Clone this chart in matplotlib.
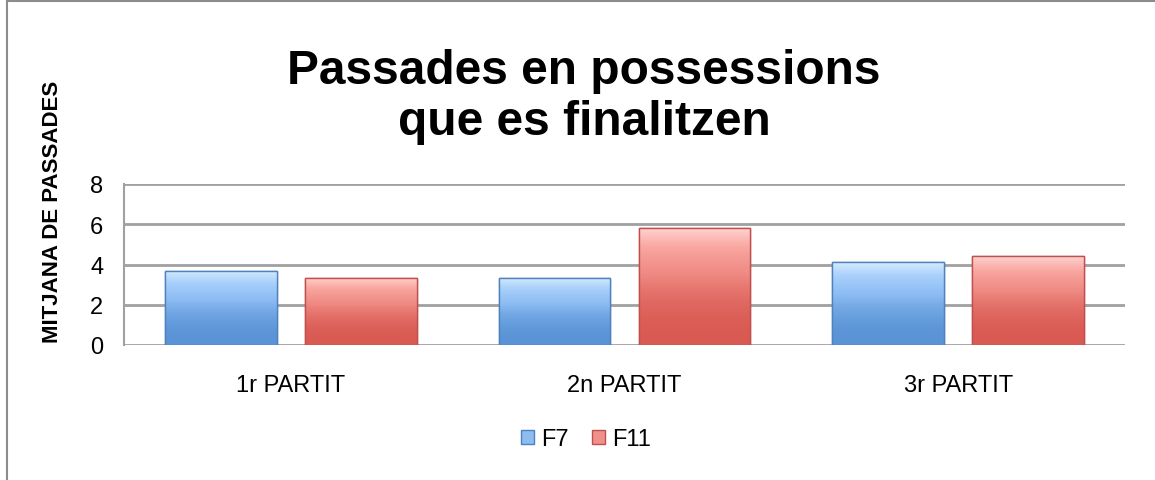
import matplotlib.pyplot as plt
import numpy as np
from matplotlib.colors import LinearSegmentedColormap
from matplotlib.patches import Rectangle

plt.rcParams['font.family'] = ['Liberation Sans', 'DejaVu Sans']

# dades
partits = ['1r PARTIT', '2n PARTIT', '3r PARTIT']
f7 = [3.7, 3.35, 4.1]
f11 = [3.35, 5.8, 4.4]
series = ['F7', 'F11']
yticks = [0, 2, 4, 6, 8]

blau = LinearSegmentedColormap.from_list('blau', ['#5a94d6', '#8dbcf3', '#a9d0fb', '#d6ecff'])
vermell = LinearSegmentedColormap.from_list('verm', ['#d95a52', '#ef8a83', '#f9a6a0', '#ffd2cf'])

fig = plt.figure(figsize=(11.55, 4.81), dpi=100)
ax = fig.add_axes([124/1155, 1-346/481, (1125-124)/1155, (346-185)/481])

x = np.arange(len(partits))
w = 0.335
off = 0.21
b1 = ax.bar(x - off, f7, w, color='#8dbcf3', edgecolor='#4f81bd', linewidth=1, label=series[0], zorder=3)
b2 = ax.bar(x + off, f11, w, color='#f0908a', edgecolor='#c0504d', linewidth=1, label=series[1], zorder=3)

# degradat vertical dins de cada barra
for bars, cmap in [(b1, blau), (b2, vermell)]:
    for p in bars:
        bx, by = p.get_x(), p.get_y()
        bw, bh = p.get_width(), p.get_height()
        g = np.linspace(0, 1, 256) ** 2.2
        im = ax.imshow(g.reshape(-1, 1), cmap=cmap, origin='lower', aspect='auto',
                       extent=[bx, bx + bw, by, by + bh], zorder=3.5)
        im.set_clip_path(p)
        ax.add_patch(Rectangle((bx, by), bw, bh, fill=False, edgecolor=p.get_edgecolor(),
                               linewidth=1, zorder=4))

ax.set_xlim(-0.5, 2.5)
ax.set_ylim(0, 8)
ax.set_yticks(yticks)
ax.set_xticks(x)
ax.set_xticklabels(partits)
ax.tick_params(axis='both', length=0, labelsize=17)
ax.tick_params(axis='y', pad=15)
ax.tick_params(axis='x', pad=21)
ax.yaxis.grid(True, color='#a0a0a0', linewidth=2, zorder=0)
ax.set_axisbelow(True)
for s in ['top', 'right', 'bottom']:
    ax.spines[s].set_visible(False)
ax.spines['left'].set_color('#a0a0a0')
ax.spines['left'].set_linewidth(1.5)

fig.text(53/1155, 1-212/481, 'MITJANA DE PASSADES', rotation=90, ha='center', va='center',
         fontsize=16, fontweight='bold')
fig.text(584/1155, 1-97/481, 'Passades en possessions\nque es finalitzen', ha='center', va='center',
         fontsize=34.5, fontweight='bold', linespacing=1.15)

leg = fig.legend(handles=[b1, b2], labels=series, loc='center', bbox_to_anchor=(586/1155, 1-440/481),
                 ncol=2, frameon=False, fontsize=17, handlelength=0.55, handleheight=0.55,
                 handletextpad=0.3, columnspacing=1.0)

# vora del gràfic
fig.patches.append(Rectangle((7/1155, -0.1), 1.2, 1-2/481 + 0.1, transform=fig.transFigure,
                             fill=False, edgecolor='#8c8c8c', linewidth=1.5))

fig.savefig('out.png', dpi=100)
